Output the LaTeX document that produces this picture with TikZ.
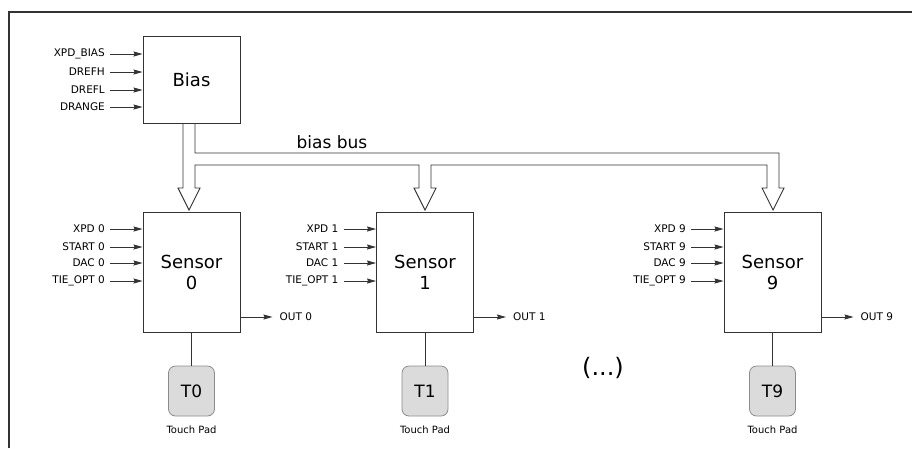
\documentclass[tikz,border=0pt]{standalone}
\usepackage{fontspec}
\setmainfont{DejaVu Sans}
\usetikzlibrary{arrows.meta,calc}
\begin{document}
\begin{tikzpicture}[x=1pt,y=-1pt,
  line/.style={draw=black!80,line width=0.9pt},
  blk/.style={line,rectangle,minimum width=97pt,inner sep=0pt,font=\fontsize{18}{21}\selectfont,align=center},
  sig/.style={font=\fontsize{10.5}{12}\selectfont,inner sep=0pt},
  sigarrow/.style={line,-{Stealth[length=9pt,width=5pt,inset=1pt]}},
  pad/.style={draw=black!45,line width=0.8pt,fill=black!14,rounded corners=7pt,minimum width=46pt,minimum height=50pt,inner sep=0pt,font=\fontsize{17}{20}\selectfont},
  padlbl/.style={font=\fontsize{10}{12}\selectfont,inner sep=0pt}]
\useasboundingbox (0,0) rectangle (912,448);
% frame
\draw[black!80,line width=1.5pt] (9,448) -- (9,12) -- (912,12);
% Bias block
\node[blk,minimum height=87pt] (bias) at (191.5,80) {Bias};
\foreach \t/\y/\n in {XPD\_BIAS/54/a,DREFH/72/b,DREFL/90/c,DRANGE/107/d}{
  \node[sig,anchor=east] (bl\n) at (105,\y) {\t};
  \draw[sigarrow] ([xshift=5pt]bl\n.east) -- (bl\n.east -| bias.west);
}
% bias bus
\node[font=\fontsize{17}{20}\selectfont,inner sep=0pt] (busl) at (332,142) {bias bus};
\draw[line,line join=miter]
  (183,123.5) -- (183,188) -- (178,188) -- (189,210) -- (200,188) -- (195,188) -- (195,165)
  -- (419,165) -- (419,188) -- (414,188) -- (425,210) -- (436,188) -- (431,188) -- (431,165)
  -- (767,165) -- (767,188) -- (762,188) -- (773,210) -- (784,188) -- (779,188) -- (779,153)
  -- (195,153) -- (195,123.5);
% Sensors
\foreach \i/\cx in {0/191.5,1/425,9/772.5}{
  \node[blk,minimum height=120pt] (s\i) at (\cx,272) {Sensor\\\i};
  \foreach \t/\y/\n in {XPD/229/a,START/247/b,DAC/263/c,TIE\_OPT/281/d}{
    \node[sig,anchor=east] (l\i\n) at (\cx-86.5,\y) {\t\ \i};
    \draw[sigarrow] ([xshift=5pt]l\i\n.east) -- (l\i\n.east -| s\i.west);
  }
  \coordinate (o\i) at (\cx+81,317);
  \draw[sigarrow] (s\i.east |- o\i) -- (o\i);
  \node[sig,anchor=west] (out\i) at (\cx+88,317) {OUT \i};
  \node[pad] (t\i) at (\cx,391) {T\i};
  \draw[line] (s\i.south) -- (t\i.north);
  \node[padlbl] (tp\i) at (\cx,430) {Touch Pad};
}
\node[font=\fontsize{24}{28}\selectfont,inner sep=0pt] (dots) at (603,368) {(...)};
\end{tikzpicture}
\end{document}
